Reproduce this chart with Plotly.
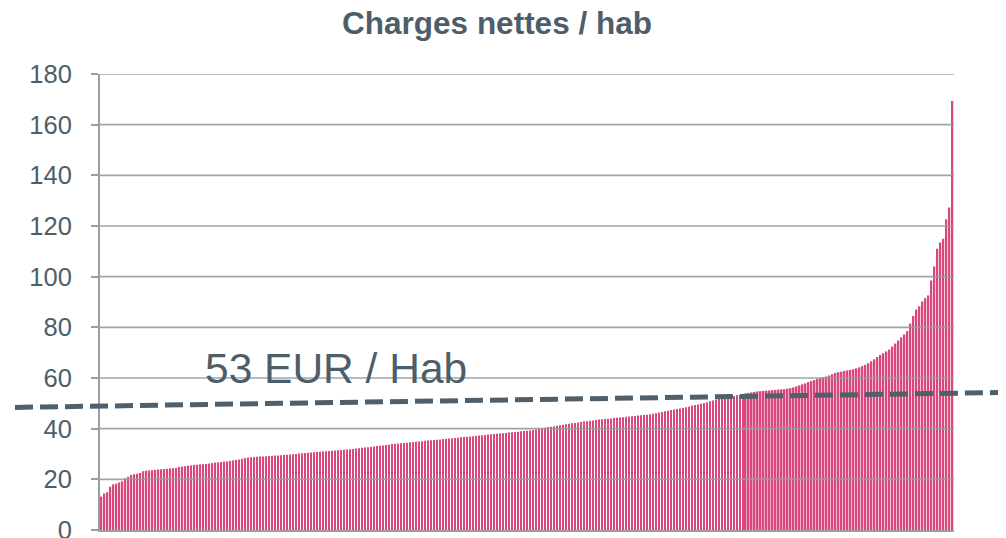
import plotly.graph_objects as go

# ---- data ----
title_text = "Charges nettes / hab"
annotation_text = "53 EUR / Hab"
values = [
    13.2, 14.4, 14.9, 17.1, 18.0, 18.3, 18.8, 19.2, 20.4, 21.0,
    21.7, 22.0, 22.2, 22.5, 23.2, 23.4, 23.5, 23.6, 23.7, 23.9,
    24.0, 24.1, 24.2, 24.3, 24.4, 24.5, 24.9, 25.0, 25.2, 25.4,
    25.5, 25.7, 25.8, 25.9, 26.0, 26.1, 26.2, 26.4, 26.6, 26.7,
    26.8, 27.0, 27.1, 27.3, 27.5, 27.7, 27.8, 28.1, 28.4, 28.6,
    28.7, 28.8, 28.9, 29.0, 29.0, 29.1, 29.2, 29.3, 29.4, 29.4,
    29.5, 29.6, 29.7, 29.8, 29.9, 30.0, 30.2,
    30.3, 30.4, 30.5, 30.6, 30.7, 30.8, 30.9, 31.0, 31.1, 31.2,
    31.3, 31.4, 31.5, 31.6, 31.7, 31.8, 31.9,
    32.0, 32.2, 32.3, 32.5, 32.6, 32.7, 32.9, 33.0, 33.2, 33.3,
    33.4, 33.6, 33.7, 33.9, 34.0, 34.1,
    34.2, 34.3, 34.4, 34.6, 34.7, 34.8, 34.9, 35.0, 35.2, 35.3,
    35.4, 35.5, 35.6, 35.7, 35.9, 36.0, 36.1,
    36.2, 36.3, 36.4, 36.6, 36.7, 36.8, 36.9, 37.0, 37.2, 37.3,
    37.4, 37.5, 37.7, 37.8, 37.9, 38.0,
    38.1, 38.2, 38.3, 38.5, 38.6, 38.7, 38.8, 39.0, 39.1, 39.2, 39.3,
    39.5, 39.7, 39.9, 40.1, 40.4, 40.7,
    40.8, 41.0, 41.2, 41.3, 41.5, 41.7, 41.9, 42.1, 42.2, 42.4, 42.6,
    42.8, 42.9, 43.1, 43.2, 43.4, 43.6,
    43.7, 43.8, 43.9, 44.0, 44.2, 44.3, 44.4, 44.5, 44.7, 44.8,
    44.9, 45.0, 45.2, 45.3, 45.4, 45.5,
    45.7, 45.9, 46.1, 46.4, 46.6, 46.9, 47.1, 47.4, 47.6, 47.8,
    48.0, 48.2, 48.5, 48.7, 49.0, 49.3, 49.5,
    49.8, 50.1, 50.4, 50.8, 51.1, 51.4, 51.7, 52.0, 52.2, 52.4,
    52.7, 52.9, 53.2, 53.4, 53.6, 53.9, 54.1, 54.3, 54.5, 54.7,
    54.8, 54.9, 55.0, 55.1, 55.2, 55.3, 55.4, 55.5, 55.6, 55.8,
    56.0, 56.3, 56.7, 57.1, 57.5, 57.9, 58.4,
    58.8, 59.2, 59.6, 60.0, 60.3, 60.6,
    61.0, 61.5, 62.0,
    62.3, 62.5, 62.8, 63.0, 63.2, 63.5, 63.8,
    64.2, 64.7, 65.2, 65.8,
    66.6, 67.4, 68.3,
    69.1, 69.8, 70.5,
    71.2, 72.4, 73.6,
    74.8, 76.0, 77.2,
    78.5, 81.5, 84.5, 87.0, 88.3, 90.2, 91.5, 92.6,
    98.5, 104.0, 111.0, 113.5, 115.0, 122.7, 127.3, 169.3,
]
categories = list(range(len(values)))
y_ticks = [0, 20, 40, 60, 80, 100, 120, 140, 160, 180]
y_max = 180
# dashed reference line: value at its left end and at its right end
ref_line_values = [48.4, 54.3]
annotation_value = 63.7

TEXT = "#4d5e6a"
GRID = "rgba(150,154,158,0.9)"
BAR = "#d9477c"
FONT = "Liberation Sans, Arial, sans-serif"

fig = go.Figure()
fig.add_trace(go.Bar(x=categories, y=values, marker=dict(color=BAR, line=dict(width=0)),
                     hoverinfo="y"))

shapes = []
for t in y_ticks[1:]:
    shapes.append(dict(type="line", xref="paper", yref="y", x0=0, x1=1, y0=t, y1=t,
                       line=dict(color=GRID, width=1.6), layer="above"))
shapes.append(dict(type="line", xref="paper", yref="paper",
                   x0=-0.0995, x1=1.061,
                   y0=ref_line_values[0] / y_max, y1=ref_line_values[1] / y_max,
                   line=dict(color="#4f5f6b", width=5, dash="18px,7px"), layer="above"))

# the page body adds an 8 px offset, so margins are set 8 px smaller on left/top
fig.update_layout(
    width=1006, height=538,
    margin=dict(l=92, r=60, t=65.5, b=16, autoexpand=False),
    paper_bgcolor="white", plot_bgcolor="white",
    bargap=0.5,
    showlegend=False,
    title=dict(text=f"<b>{title_text}</b>", x=489 / 1006, xanchor="center",
               y=1 - 15 / 538, yanchor="middle", automargin=False,
               font=dict(family=FONT, size=31.5, color=TEXT)),
    font=dict(family=FONT, color=TEXT),
    shapes=shapes,
    annotations=[dict(text=annotation_text, xref="paper", yref="y", x=0.1206, y=annotation_value,
                      xanchor="left", yanchor="middle", showarrow=False,
                      font=dict(family=FONT, size=42.5, color=TEXT))],
)
fig.update_xaxes(range=[-0.5, len(values) - 0.5], showticklabels=False, showgrid=False,
                 showline=True, linecolor="#9a9ea3", linewidth=2, ticks="", zeroline=False,
                 automargin=False)
fig.update_yaxes(range=[0, y_max], tickvals=y_ticks, showgrid=False, zeroline=False,
                 showline=True, linecolor="#9a9ea3", linewidth=2,
                 ticks="outside", ticklen=7, tickwidth=2, tickcolor="#9a9ea3",
                 ticklabelstandoff=14, automargin=False,
                 tickfont=dict(family=FONT, size=25.5, color=TEXT))

fig.write_html("out.html")
